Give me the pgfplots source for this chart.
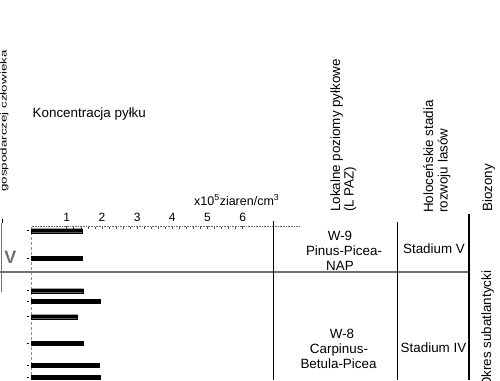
\documentclass[border=0pt]{standalone}
\usepackage{fontspec}
\setmainfont{Liberation Sans}
\usepackage{pgfplots}
\pgfplotsset{compat=1.18}
\definecolor{lgray}{RGB}{112,112,112}
\newcommand\ff{\fontsize{13.4}{15.5}\selectfont}
\begin{document}
\begin{tikzpicture}
\path[use as bounding box] (0pt,0pt) rectangle (500pt,-380pt);
\clip (0pt,0pt) rectangle (500pt,-380pt);
\begin{axis}[
  at={(31.5pt,-380pt)}, anchor=south west,
  scale only axis, width=268.5pt, height=154pt,
  xmin=0, xmax=7.628, ymin=-380, ymax=-226,
  axis x line*=top, axis y line*=left,
  x axis line style={densely dotted, black!60, line width=0.6pt},
  y axis line style={densely dashed, black!45, line width=0.6pt},
  xtick={1,2,3,4,5,6}, minor x tick num=4,
  x tick style={black!70, line width=0.5pt, yshift=-2.5pt},
  major tick length=2.5pt, minor tick length=1.5pt,
  tick align=outside,
  xticklabel style={font=\fontsize{12}{12}\selectfont, yshift=-2pt},
  /pgf/number format/assume math mode=true,
  ytick={-230.7,-258.3,-290.7,-301,-316.7,-343.3,-365,-377.3},
  yticklabels={},
  y tick style={black, line width=1pt, xshift=-2.5pt},
  xbar, bar width=4pt,
  clip=false,
]
\addplot[fill=black, draw=black] coordinates {
  (1.45,-230.7) (1.45,-258.3) (1.48,-290.7) (1.95,-301)
  (1.31,-316.7) (1.48,-343.3) (1.93,-365) (1.96,-377.3)
};
\end{axis}
\begin{scope}[x=1pt,y=-1pt]
\draw[lgray, line width=2pt] (0,272) -- (469,272);
\draw[line width=1.2pt] (273.5,221) -- (273.5,380);
\draw[line width=1.2pt] (397.3,222) -- (397.3,380);
\draw[line width=1.2pt] (469,214) -- (469,380);
\draw[lgray, line width=1.5pt] (1.5,223) -- (1.5,292);
\draw[black, line width=1pt] (2,219) -- (2,223);
\node[lgray, font=\bfseries\fontsize{18}{18}\selectfont, inner sep=0] at (10.5,257) {V};
\node[anchor=base west, font=\ff, inner sep=0] at (32.5,117) {Koncentracja pyłku};
\node[anchor=base east, font=\fontsize{12.5}{12.5}\selectfont, inner sep=0] at (279.5,205) {x10\textsuperscript{5}ziaren/cm\textsuperscript{3}};
% rotated headers
\node[rotate=90, anchor=base west, font=\ff, inner sep=0] at (6.5,192) {\scalebox{1}[0.65]{gospodarczej człowieka}};
\node[rotate=90, anchor=base west, font=\ff, inner sep=0] at (340,212) {Lokalne poziomy pyłkowe};
\node[rotate=90, anchor=base west, font=\ff, inner sep=0] at (353.5,212) {(L PAZ)};
\node[rotate=90, anchor=base west, font=\ff, inner sep=0] at (433,213) {Holoceńskie stadia};
\node[rotate=90, anchor=base west, font=\ff, inner sep=0] at (447.5,213) {rozwoju lasów};
\node[rotate=90, anchor=base west, font=\ff, inner sep=0] at (492,212) {Biozony};
\node[rotate=90, anchor=base west, font=\ff, inner sep=0] at (491,388) {Okres subatlantycki};
% cells
\node[anchor=base, font=\ff, inner sep=0] at (340,240) {W-9};
\node[anchor=base, font=\ff, inner sep=0] at (344,255) {Pinus-Picea-};
\node[anchor=base, font=\ff, inner sep=0] at (340,270) {NAP};
\node[anchor=base, font=\ff, inner sep=0] at (434,253) {Stadium V};
\node[anchor=base, font=\ff, inner sep=0] at (342,338) {W-8};
\node[anchor=base, font=\ff, inner sep=0] at (339,353) {Carpinus-};
\node[anchor=base, font=\ff, inner sep=0] at (338.5,368) {Betula-Picea};
\node[anchor=base, font=\ff, inner sep=0] at (433.5,352) {Stadium IV};
\end{scope}
\end{tikzpicture}
\end{document}
